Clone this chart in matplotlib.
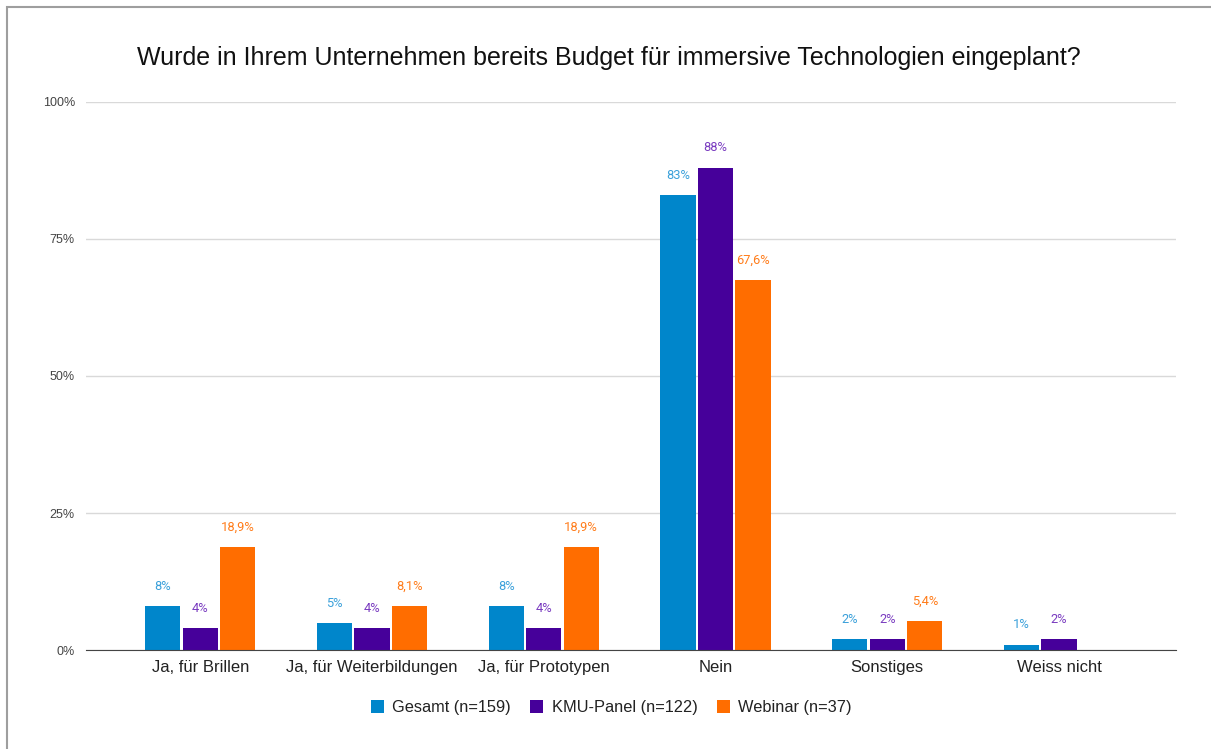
import matplotlib.pyplot as plt
from matplotlib.patches import Rectangle
import numpy as np

# categories and series (values in percent)
categories = ['Ja, für Brillen', 'Ja, für Weiterbildungen', 'Ja, für Prototypen',
              'Nein', 'Sonstiges', 'Weiss nicht']
series_names = ['Gesamt (n=159)', 'KMU-Panel (n=122)', 'Webinar (n=37)']
gesamt = [8, 5, 8, 83, 2, 1]
kmu = [4, 4, 4, 88, 2, 2]
webinar = [18.9, 8.1, 18.9, 67.6, 5.4, None]
gesamt_labels = ['8%', '5%', '8%', '83%', '2%', '1%']
kmu_labels = ['4%', '4%', '4%', '88%', '2%', '2%']
webinar_labels = ['18,9%', '8,1%', '18,9%', '67,6%', '5,4%', '']

bar_colors = ['#0086cb', '#46009a', '#ff6d00']
label_colors = ['#3aa0da', '#7a3cc0', '#ff7c1a']

plt.rcParams['font.family'] = ['Liberation Sans', 'DejaVu Sans']

fig = plt.figure(figsize=(12.11, 7.49), dpi=100)
ax = fig.add_axes([0.071, 0.132, 0.9, 0.732])

x = np.arange(len(categories))
width = 0.205
offsets = [-0.218, 0, 0.218]
all_vals = [gesamt, kmu, webinar]
all_labels = [gesamt_labels, kmu_labels, webinar_labels]

for i in range(3):
    vals = [v if v is not None else 0 for v in all_vals[i]]
    bars = ax.bar(x + offsets[i], vals, width, color=bar_colors[i],
                  label=series_names[i], zorder=3)
    for b, v, lab in zip(bars, all_vals[i], all_labels[i]):
        if v is None:
            b.set_visible(False)
            continue
        ax.annotate(lab, (b.get_x() + b.get_width() / 2, v),
                    xytext=(0, 9.5), textcoords='offset points',
                    ha='center', va='bottom', fontsize=9.3,
                    color=label_colors[i], family=['Roboto', 'DejaVu Sans'])

ax.set_xlim(-0.665, 5.68)
ax.set_ylim(0, 100)
ax.set_yticks([0, 25, 50, 75, 100])
ax.set_yticklabels(['0%', '25%', '50%', '75%', '100%'])
ax.yaxis.grid(True, color='#d9d9d9', linewidth=1, zorder=0)
ax.set_xticks(x)
ax.set_xticklabels(categories, fontsize=12, color='#222222')
ax.tick_params(axis='y', length=0, labelsize=9, labelcolor='#444444', pad=8)
ax.tick_params(axis='x', length=0, pad=7)
for s in ['top', 'right', 'left']:
    ax.spines[s].set_visible(False)
ax.spines['bottom'].set_color('#444444')
ax.spines['bottom'].set_zorder(4)

fig.suptitle('Wurde in Ihrem Unternehmen bereits Budget für immersive Technologien eingeplant?',
             x=0.503, y=0.938, fontsize=18, color='#111111')

leg = ax.legend(loc='center', bbox_to_anchor=(0.482, -0.105), ncol=3,
                frameon=False, fontsize=11.8, handlelength=0.8, handleheight=0.8,
                columnspacing=1.2, handletextpad=0.5)
for t in leg.get_texts():
    t.set_color('#222222')

fig.patches.append(Rectangle((7 / 1211, -0.01), 1.1, 1 - 7 / 749 + 0.01,
                             transform=fig.transFigure, fill=False,
                             edgecolor='#9e9e9e', linewidth=1.5))

fig.savefig('out.png', dpi=100)
